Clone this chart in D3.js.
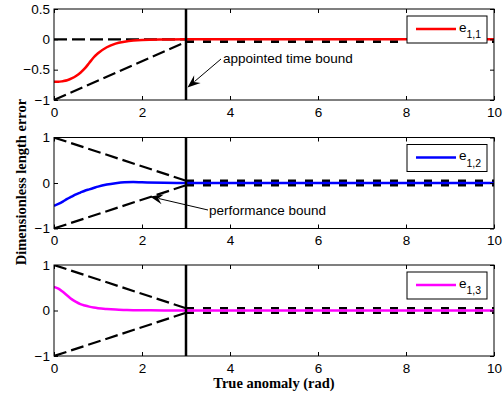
<!DOCTYPE html>
<html><head><meta charset="utf-8">
<script src="https://cdnjs.cloudflare.com/ajax/libs/d3/7.8.5/d3.min.js"></script>
<style>
html,body{margin:0;padding:0;background:#fff;}
svg{display:block;}
</style></head>
<body>
<svg id="chart" width="503" height="396"></svg>
<script>
// ---- data ----
const tVals = [0,0.1,0.2,0.3,0.4,0.5,0.6,0.7,0.8,0.9,1.0,1.2,1.4,1.6,1.8,2.0,2.5,3,10];
const e11 = [-0.70,-0.70,-0.69,-0.675,-0.645,-0.605,-0.55,-0.48,-0.39,-0.30,-0.23,-0.13,-0.07,-0.04,-0.02,-0.01,-0.003,0,0];
const e12 = [-0.50,-0.46,-0.41,-0.35,-0.30,-0.25,-0.21,-0.17,-0.14,-0.11,-0.08,-0.035,-0.005,0.015,0.02,0.015,0.005,0,0];
const e13 = [0.52,0.48,0.41,0.33,0.25,0.19,0.14,0.11,0.085,0.065,0.05,0.032,0.02,0.013,0.008,0.005,0.002,0,0];

const boundT = [0,3,10];
const upper1 = [0,0,0];
const lower1 = [-1,-0.04,-0.04];
const upper2 = [1,0.05,0.05];
const lower2 = [-1,-0.05,-0.05];
const upper3 = [1,0.05,0.05];
const lower3 = [-1,-0.05,-0.05];
const appointedT = 3;

const xTicks = [0,2,4,6,8,10];
const xTickLabels = ["0","2","4","6","8","10"];
const yTicks1 = [-1,-0.5,0,0.5];
const yTickLabels1 = ["\u22121","\u22120.5","0","0.5"];
const yTicks23 = [-1,0,1];
const yTickLabels23 = ["\u22121","0","1"];

const seriesNames = ["1,1","1,2","1,3"];
const seriesColors = ["#ff0000","#0000ff","#ff00ff"];

const xLabel = "True anomaly (rad)";
const yLabel = "Dimensionless length error";

// ---- layout ----
const svg = d3.select("#chart");
const L = 54, R = 494, H = 91;
const tops = [9, 137.5, 265];
const font = "'Liberation Sans', Arial, sans-serif";
const serif = "'Liberation Serif', 'Times New Roman', serif";
const fs = "13.5px";

const x = d3.scaleLinear().domain([0,10]).range([L,R]);

const panels = [
  {e: e11, up: upper1, lo: lower1, dom: [-1,0.5], yt: yTicks1, yl: yTickLabels1},
  {e: e12, up: upper2, lo: lower2, dom: [-1,1], yt: yTicks23, yl: yTickLabels23},
  {e: e13, up: upper3, lo: lower3, dom: [-1,1], yt: yTicks23, yl: yTickLabels23}
];

const defs = svg.append("defs");

panels.forEach((p, i) => {
  const top = tops[i], bot = top + H;
  const y = d3.scaleLinear().domain(p.dom).range([bot, top]);
  const g = svg.append("g");

  defs.append("clipPath").attr("id","clip"+i)
    .append("rect").attr("x",L).attr("y",top).attr("width",R-L).attr("height",H);

  const plot = g.append("g").attr("clip-path","url(#clip"+i+")");

  // bounds
  const line = d3.line().x(d => x(d[0])).y(d => y(d[1]));
  [p.up, p.lo].forEach(b => {
    const pts = boundT.map((t,k) => [t, b[k]]);
    const pre = pts.filter(d => d[0] <= appointedT);
    const post = pts.filter(d => d[0] >= appointedT);
    plot.append("path").attr("d", line(pre)).attr("fill","none")
      .attr("stroke","#000").attr("stroke-width",2.2).attr("stroke-dasharray","13,5");
    plot.append("path").attr("d", line(post)).attr("fill","none")
      .attr("stroke","#000").attr("stroke-width",2.4).attr("stroke-dasharray","8,9");
  });

  // error curve
  const curve = d3.line().x(d => x(d[0])).y(d => y(d[1])).curve(d3.curveMonotoneX);
  plot.append("path").attr("d", curve(tVals.map((t,k) => [t, p.e[k]])))
    .attr("fill","none").attr("stroke", seriesColors[i]).attr("stroke-width",2.5)
    .attr("stroke-linejoin","round");

  // appointed time vertical line
  g.append("line").attr("x1",x(appointedT)).attr("x2",x(appointedT))
    .attr("y1",top).attr("y2",bot).attr("stroke","#000").attr("stroke-width",2.5);

  // axes
  const axB = d3.axisBottom(x).tickValues(xTicks).tickFormat((d,k) => xTickLabels[k])
    .tickSizeInner(-4).tickSizeOuter(0).tickPadding(7);
  const axT = d3.axisTop(x).tickValues(xTicks).tickFormat("").tickSizeInner(-4).tickSizeOuter(0);
  const axL = d3.axisLeft(y).tickValues(p.yt).tickFormat((d,k) => p.yl[k])
    .tickSizeInner(-4).tickSizeOuter(0).tickPadding(4);
  const axR = d3.axisRight(y).tickValues(p.yt).tickFormat("").tickSizeInner(-4).tickSizeOuter(0);

  [[axB,`translate(0,${bot})`],[axT,`translate(0,${top})`],[axL,`translate(${L},0)`],[axR,`translate(${R},0)`]]
    .forEach(([ax,tr]) => {
      const a = g.append("g").attr("transform",tr).call(ax);
      a.select(".domain").remove();
      a.selectAll("line").attr("stroke","#000");
      a.selectAll("text").attr("fill","#000").style("font-family",font).style("font-size",fs);
    });

  g.append("rect").attr("x",L).attr("y",top).attr("width",R-L).attr("height",H)
    .attr("fill","none").attr("stroke","#000").attr("stroke-width",1);

  // legend
  const bx = 407, by = top + 7;
  const lg = g.append("g");
  lg.append("rect").attr("x",bx).attr("y",by).attr("width",80).attr("height",27)
    .attr("fill","#fff").attr("stroke","#000").attr("stroke-width",1);
  lg.append("line").attr("x1",bx+9).attr("x2",bx+49).attr("y1",by+13).attr("y2",by+13)
    .attr("stroke",seriesColors[i]).attr("stroke-width",2.5);
  const tx = lg.append("text").attr("x",bx+52).attr("y",by+15.5)
    .style("font-family",font).style("font-size",fs).attr("fill","#000");
  tx.append("tspan").text("e");
  tx.append("tspan").attr("dy",6.5).style("font-size","10.5px").text(seriesNames[i]);
});

// annotations with arrows
function arrow(x1,y1,x2,y2){
  const ang = Math.atan2(y2-y1, x2-x1);
  const len = 13, w = 5;
  svg.append("line").attr("x1",x1).attr("y1",y1)
    .attr("x2",x2 - Math.cos(ang)*len*0.7).attr("y2",y2 - Math.sin(ang)*len*0.7)
    .attr("stroke","#000").attr("stroke-width",1);
  const bx = x2 - Math.cos(ang)*len, by = y2 - Math.sin(ang)*len;
  const nx = -Math.sin(ang), ny = Math.cos(ang);
  const mx = x2 - Math.cos(ang)*len*0.65, my = y2 - Math.sin(ang)*len*0.65;
  svg.append("path")
    .attr("d",`M${x2},${y2}L${bx+nx*w},${by+ny*w}L${mx},${my}L${bx-nx*w},${by-ny*w}Z`)
    .attr("fill","#000");
}
arrow(221, 59, x(appointedT)+1.5, 87.5);
svg.append("text").attr("x",223).attr("y",63).text("appointed time bound")
  .style("font-family",font).style("font-size",fs).attr("fill","#000");

arrow(208, 210, 150, 196.5);
svg.append("text").attr("x",209).attr("y",215).text("performance bound")
  .style("font-family",font).style("font-size",fs).attr("fill","#000");

// axis labels
svg.append("text").attr("x",(L+R)/2).attr("y",388).attr("text-anchor","middle")
  .style("font-family",serif).style("font-weight","bold").style("font-size","14.5px")
  .attr("fill","#000").text(xLabel);
svg.append("text").attr("transform","translate(26,182) rotate(-90)").attr("text-anchor","middle")
  .style("font-family",serif).style("font-weight","bold").style("font-size","14.5px")
  .attr("fill","#000").text(yLabel);
</script>
</body></html>
